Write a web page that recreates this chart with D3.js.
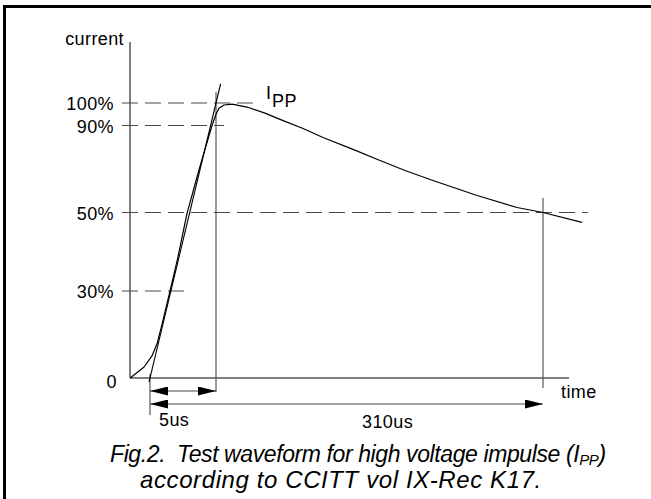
<!DOCTYPE html>
<html>
<head>
<meta charset="utf-8">
<script src="https://cdn.jsdelivr.net/npm/d3@7"></script>
<style>
  html, body { margin: 0; padding: 0; background: #fff; }
  svg { display: block; font-family: "Liberation Sans", Arial, Helvetica, sans-serif; }
  svg text { white-space: pre; }
</style>
</head>
<body>
<svg id="chart" width="651" height="499"></svg>
<script>
// ---------- data ----------
// current levels marked on the (schematic) y axis, in % of Ipp
const levelPct = [0, 30, 50, 90, 100];
const levelLabels = ["0", "30%", "50%", "90%", "100%"];

// marked times: virtual origin, front time, time to half value (us)
const markTimes = [0, 5, 310];
const spanLabels = ["5us", "310us"];

// waveform (time in us, current in % of Ipp)
const curveTime = [-1.5, -0.45, 0.15, 0.55, 0.9, 1.5, 2.1, 2.8, 3.7, 4.25, 4.7, 5.0,
  7.8, 12.5, 19.9, 33.9, 50.7, 64.7, 86.2, 104.8, 132.8, 158, 181.3, 207.4,
  248.5, 285.8, 310, 346.4];
const curvePct = [0, 3.8, 7.6, 12.1, 18.3, 29.7, 38.4, 49.7, 69.3, 80.8, 90, 95,
  97.7, 99.1, 99.5, 98.2, 95.5, 92.7, 88.6, 84.5, 79, 73.9, 69.3, 64.7,
  57.8, 52.3, 50, 47.5];

// ---------- layout ----------
const axisLeft = 130, axisRight = 569, axisTop = 42;
const labelRight = 114;
const dashStart = 122;
const dashEnd = { 30: 187, 50: 588, 90: 224, 100: 260 };
const arrowY = [391, 404];
const ink = "#000", grey = "#4a4a4a";

// schematic (not to scale) axes -> piecewise linear scales
const x = d3.scaleLinear().domain(markTimes).range([150, 216, 543]);
const y = d3.scaleLinear().domain(levelPct).range([378, 291, 212.5, 125.5, 103]);

const svg = d3.select("#chart");

// frame (only top and left edges fall inside the picture)
svg.append("rect")
  .attr("x", 4.5).attr("y", 6.5)
  .attr("width", 800).attr("height", 800)
  .attr("fill", "none").attr("stroke", ink).attr("stroke-width", 3);

// arrow head marker
const defs = svg.append("defs");
defs.append("marker")
  .attr("id", "head")
  .attr("markerUnits", "userSpaceOnUse")
  .attr("markerWidth", 18).attr("markerHeight", 9)
  .attr("refX", 18).attr("refY", 4.5)
  .attr("orient", "auto-start-reverse")
  .append("path")
  .attr("d", "M0,0L18,4.5L0,9Z")
  .attr("fill", ink);

// ---------- axes ----------
svg.append("line")
  .attr("x1", axisLeft).attr("x2", axisLeft)
  .attr("y1", y(0)).attr("y2", axisTop)
  .attr("stroke", ink).attr("stroke-width", 1);
svg.append("line")
  .attr("x1", axisLeft).attr("x2", axisRight)
  .attr("y1", y(0)).attr("y2", y(0))
  .attr("stroke", ink).attr("stroke-width", 1);

svg.append("text")
  .attr("x", 124).attr("y", 45)
  .attr("text-anchor", "end")
  .attr("font-size", 18)
  .attr("letter-spacing", 0.4)
  .text("current");

svg.append("text")
  .attr("x", 561).attr("y", 398)
  .attr("font-size", 18)
  .attr("letter-spacing", 0.4)
  .text("time");

// level labels
svg.selectAll("text.level")
  .data(levelPct)
  .join("text")
  .attr("class", "level")
  .attr("x", d => d === 0 ? labelRight + 3 : labelRight)
  .attr("y", d => y(d) + (d === 0 ? 10 : 7))
  .attr("text-anchor", "end")
  .attr("font-size", 18)
  .attr("letter-spacing", 0.4)
  .text((d, i) => levelLabels[i]);

// dashed level lines
svg.selectAll("line.level")
  .data(levelPct.filter(d => d > 0))
  .join("line")
  .attr("class", "level")
  .attr("x1", dashStart).attr("x2", d => dashEnd[d])
  .attr("y1", d => y(d)).attr("y2", d => y(d))
  .attr("stroke", grey).attr("stroke-width", 1.1)
  .attr("stroke-dasharray", "16 7");

// ---------- time markers ----------
// T0 (virtual origin) drop line
svg.append("line")
  .attr("x1", x(0)).attr("x2", x(0))
  .attr("y1", y(0) - 4).attr("y2", 415)
  .attr("stroke", grey).attr("stroke-width", 1.1);
// front time line
svg.append("line")
  .attr("x1", x(5)).attr("x2", x(5))
  .attr("y1", 92).attr("y2", arrowY[0] + 1)
  .attr("stroke", grey).attr("stroke-width", 1.1);
// half value line
svg.append("line")
  .attr("x1", x(310)).attr("x2", x(310))
  .attr("y1", 198).attr("y2", 388)
  .attr("stroke", grey).attr("stroke-width", 1.1);

// front tangent through (T0, 0%) and (T1, 100%), extended a little
const p0 = [x(0), y(0)], p1 = [x(5), y(100)];
const along = k => [p0[0] + (p1[0] - p0[0]) * k, p0[1] + (p1[1] - p0[1]) * k];
svg.append("path")
  .attr("d", d3.line()([along(-0.015), along(1.07)]))
  .attr("fill", "none").attr("stroke", ink).attr("stroke-width", 1.1);

// ---------- waveform ----------
const pts = curveTime.map((t, i) => ({ t, v: curvePct[i] }));
svg.append("path")
  .datum(pts)
  .attr("d", d3.line().x(d => x(d.t)).y(d => y(d.v)))
  .attr("fill", "none").attr("stroke", ink).attr("stroke-width", 1.2)
  .attr("stroke-linejoin", "round");

// Ipp label
const ipp = svg.append("text")
  .attr("x", 266).attr("y", 99)
  .attr("font-size", 18);
ipp.append("tspan").text("I");
ipp.append("tspan").attr("dy", 8).attr("dx", 1).attr("letter-spacing", 0.6).text("PP");

// ---------- span arrows ----------
[5, 310].forEach((t, i) => {
  svg.append("line")
    .attr("x1", x(0)).attr("x2", x(t))
    .attr("y1", arrowY[i]).attr("y2", arrowY[i])
    .attr("stroke", grey).attr("stroke-width", 1.1)
    .attr("marker-start", "url(#head)")
    .attr("marker-end", "url(#head)");
});

svg.append("text")
  .attr("x", 159).attr("y", 426)
  .attr("font-size", 18).attr("letter-spacing", 0.4)
  .text(spanLabels[0]);
svg.append("text")
  .attr("x", 362).attr("y", 428)
  .attr("font-size", 18).attr("letter-spacing", 0.4)
  .text(spanLabels[1]);

// ---------- caption ----------
const cap1 = svg.append("text")
  .attr("x", 110).attr("y", 462)
  .attr("font-size", 23).attr("font-style", "italic")
  .attr("letter-spacing", -0.4);
cap1.append("tspan").text("Fig.2.  Test waveform for high voltage impulse (I");
cap1.append("tspan").attr("font-size", 15).attr("dy", 3).text("PP");
cap1.append("tspan").attr("dy", -3).text(")");

svg.append("text")
  .attr("x", 140).attr("y", 488)
  .attr("font-size", 24).attr("font-style", "italic")
  .attr("letter-spacing", 0.6)
  .text("according to CCITT vol IX-Rec K17.");
</script>
</body>
</html>
